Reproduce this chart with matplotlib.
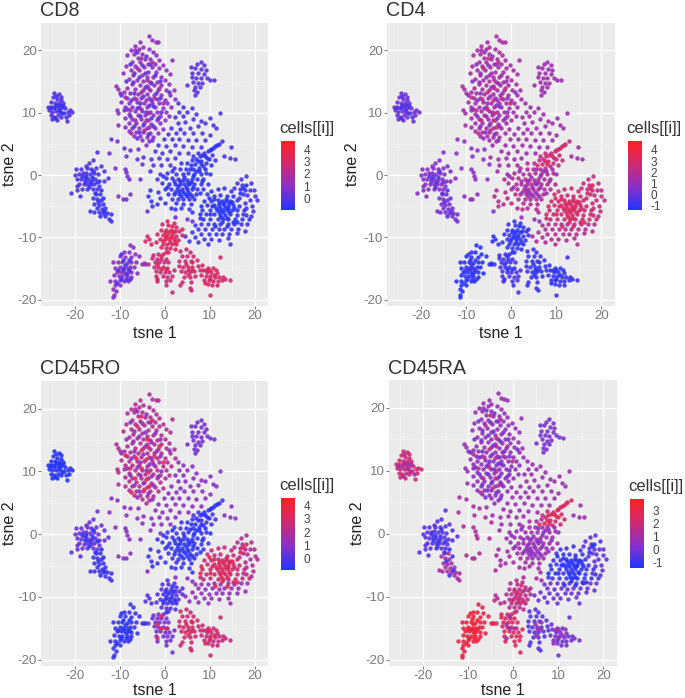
import matplotlib
matplotlib.use('Agg')
import matplotlib.pyplot as plt
from matplotlib.colors import LinearSegmentedColormap, Normalize
from matplotlib.cm import ScalarMappable
import numpy as np

# tsne positions, one list per group of cells
far_left = [(-24.5,13.2),(-23.5,13),(-23,12.6),(-24.8,12.5),(-24,12.2),(-23,12),(-25.2,11.7),(-24.4,11.6),(-23.5,11.5),(-22.6,11.5),
 (-26,11),(-25.2,11),(-24.5,11),(-23.8,10.9),(-23,10.8),(-22.2,10.7),(-21,10.5),(-20.5,10.2),(-25.8,10.4),(-25,10.2),(-24.2,10.3),
 (-23.3,10.2),(-22.4,10),(-21.5,10.2),(-25.3,9.6),(-24.6,9.4),(-23.8,9.6),(-23,9.4),(-21.3,9.6),(-25,9),(-24,8.9),(-21.8,8.7)]
arm_top = [(-15,3.7),(-16,2.4),(-16.8,2),(-17.5,1.4),(-19.8,1),(-18.6,1),(-17.3,1.1),(-16.3,1),(-15.2,1.2),(-14.2,1.5),(-20,0),(-19,0.2),
 (-18.2,0.3),(-17.5,0.4),(-16.7,0.2),(-15.8,0.3),(-14.8,0.1),(-13.5,0.6),(-12.5,-0.4),(-19.6,-0.6),(-18.6,-0.7),(-17.8,-0.5),(-17,-0.7),
 (-16.2,-0.8),(-15.4,-0.6),(-14.5,-0.9),(-13.5,-1),(-19,-1.4),(-18,-1.5),(-17.2,-1.4),(-16.4,-1.5),(-15.6,-1.4),(-14.7,-1.7),(-19.6,-1.8),
 (-18.4,-2.2),(-17.2,-2.2),(-16,-2.2),(-15,-2.3),(-20.9,-2.9),(-19.5,-2.4),(-18.9,-3.4)]
arm_tail = [(-15.3,-3),(-14.4,-3),(-16,-3.6),(-15,-3.8),(-14.2,-4),(-15.6,-4.6),(-14.6,-4.8),(-13.8,-4.6),(-15,-5.3),(-14,-5.5),(-13.2,-5.3),
 (-16.5,-5.8),(-15.8,-5.9),(-14.6,-5.9),(-13.7,-6.1),(-12.8,-6.1),(-12,-6.2),(-13.2,-6.6),(-12.4,-7),(-12,-7.3)]
top_upper = [(-3.4,22.3),(-2.8,21.6),(-2,21.4),(-1.4,21.3),(-5.4,21.3),(-6.6,20.7),(-4.8,20.6),(-7.5,20),(-6.6,20),(-5.6,20.2),(-3.5,20.2),(-2.6,19.8),
 (-8.4,19.3),(-6.8,19.4),(-5,19.4),(-2,19.2),(-1.3,18.5),(-6,18.8),(-4.4,18.7),(-3.2,18.7),(1.7,18.4),(-7.2,18.2),(-5.5,18.1),(-3.8,17.9),(-2.2,17.9),
 (-8.6,17.5),(-6.5,17.5),(-4.6,17.4),(-2.9,17.3),(-1.2,17.2),(-0.3,17.6),(-7.5,16.8),(-5.8,16.8),(-3.6,16.6),(-1.9,16.6),(0.3,16.8),(-9.2,16.4),(-7,16),
 (-5,16.1),(-4,15.7),(-2.6,15.8),(-0.9,15.8),(1.3,16.2),(-8,15.4),(-6.2,15.3),(-4.8,15.1),(-3.3,15),(-1.7,15),(0,15.2),(-7.2,14.6),(-5.5,14.5),(-4,14.3),
 (-2.4,14.4),(-0.8,14.4),(1,14.6),(-10.9,14.3),(-10.4,13.8),(-8.3,14),(-6.5,13.8),(-4.8,13.7),(-3.2,13.6),(-1.5,13.6),(0.2,13.7),(2,13.6),(-10,13.2),
 (-9,13.3),(-7.7,13.1),(-6,13),(-4,13),(-2.4,12.9),(-0.8,12.9),(1.3,12.9)]
top_lower = [(-8.3,12.4),(-6.8,12.4),(-5.2,12.3),(-3.5,12.3),(-1.8,12.2),(0,12.1),(2.2,12.2),(-9.6,11.8),(-8,11.6),(-6.2,11.7),(-4.5,11.6),(-2.8,11.6),(-1.2,11.5),
 (0.6,11.5),(-8.9,11),(-7.2,11),(-5.6,11),(-3.9,10.9),(-2.2,10.9),(-0.4,10.8),(1.4,10.9),(-10.6,10.4),(-9,10.4),(-6.6,10.3),(-5,10.3),(-3.2,10.2),(-1.6,10.2),
 (0.4,10.2),(-10.3,9.9),(-8,9.8),(-6,9.6),(-4.3,9.6),(-2.6,9.6),(-1,9.5),(1,9.5),(-8.9,9.1),(-7.2,9),(-5.2,9),(-3.6,8.9),(-1.8,8.9),(0,8.9),(-7.9,8.4),(-6.4,8.3),
 (-4.6,8.3),(-3,8.2),(-1.1,8.3),(-10.3,8),(-8.8,7.7),(-7.2,7.6),(-5.6,7.6),(-4,7.5),(-2.2,7.5),(-0.4,7.4),(-8,7),(-6.4,6.9),(-4.9,6.9),(-3.3,6.8),(-1.4,6.8),
 (-6.9,6.3),(-5.4,6.2),(-4,6.1),(-2.6,6.1),(-5,5.6),(-3.4,5.4),(-4.2,4.9)]
top_right = [(8,18.2),(7.2,17.8),(8.8,17.6),(5.9,17.3),(6.8,17.2),(8.2,17),(9.1,16.8),(6.2,16.3),(7.5,16.3),(8.8,16.2),(6,15.7),(7,15.6),(8,15.5),(9.4,15.6),(10.2,15.3),
 (11,15.2),(6.4,15),(7.4,14.7),(8.4,14.8),(5,14.4),(6.8,14.2),(7.9,14.2),(6.5,13.6),(7.3,13.4),(6.7,12.9)]
mid_scatter = [(3,11.5),(4.2,11),(6,10.8),(3.2,10.2),(5,10.2),(7,9.8),(12.3,10),(2.4,9.4),(4,9.5),(6.4,9),(8.2,8.7),(10.2,9.2),(2.9,8.4),(4.6,8.5),(9,8.4),(1.5,7.6),
 (3.5,7.4),(5.6,7.6),(7.5,7.8),(10.8,8),(11.5,7.6),(0.7,6.6),(2.6,6.7),(4.4,6.8),(6.4,6.8),(8.4,6.8),(10,6.4),(-0.2,5.8),(1.6,5.8),(3.2,5.8),(5.2,5.7),(7,5.6),
 (9,5.7),(-1.4,4.8),(0.4,4.7),(2.4,4.8),(4.2,4.6),(6.2,4.5),(8,4.5),(-2.2,3.9),(-0.6,3.6),(1.2,3.8),(3.2,3.6),(5.2,3.5),(-4.7,2.9),(-3,2.6),(-1.2,2.8),(0.6,2.6),
 (2.2,2.8),(-2.6,1.6),(-0.8,1.6),(1.2,1.6),(-3.2,0.6),(-1,0.2),(14.7,4.5),(13.2,3),(14.5,2.7),(15.7,2.6)]
centre = [(3.6,2),(5,2),(6.2,2.4),(2,1.2),(3.4,1),(4.8,1),(6.4,1),(7.6,1.2),(0.6,0.4),(2.6,0.2),(4,0.2),(5.2,0.3),(6.6,0.2),(8,0.2),(9.2,0.4),(-1.6,-0.7),(0.2,-0.5),
 (1.6,-0.5),(3,-0.6),(4,-0.8),(5,-0.8),(6,-0.7),(7.2,-0.6),(8.6,-0.6),(-0.6,-1.3),(1,-1.4),(2.2,-1.4),(3.4,-1.4),(4.4,-1.5),(5.4,-1.5),(6.6,-1.4),(8,-1.5),(9.6,-1.4),
 (0,-2.2),(1.4,-2.2),(2.8,-2.2),(3.8,-2.2),(4.9,-2.3),(6,-2.3),(7.3,-2.2),(8.6,-2.3),(-3.3,-2.4),(-1.4,-2.7),(0.8,-3),(2,-3.1),(3.3,-3.1),(4.5,-3),(5.7,-3.1),(7,-3.1),(-3.8,-3.4),
 (-1,-3.6),(1.6,-3.8),(3,-3.9),(4.2,-3.8),(5.4,-3.9),(6.6,-3.8),(-3,-4.2),(-1.8,-4.6),(0,-4.5),(2.6,-4.5),(4.2,-4.6),(5.8,-4.6),(-2.9,-5),(1.4,-5.3),(2.4,-5.4),(3.6,-5.2),(5.4,-5.4),(6,-6)]
streak = [(12.8,5.4),(12,5),(11.2,4.6),(10.4,4.2),(9.6,3.8),(8.8,3.5),(7.8,3),(7,2.6),(6.4,3),(8.2,2.2),(9.4,2.8),(10.6,3.2),(8.6,1.4),(7.4,3.6),(9.2,2),(10.4,1.6),(11.2,2.4)]
right_main = [(13.2,-2),(11.8,-2.2),(10.4,-2.5),(14.8,-2.6),(9.4,-3.1),(11,-3.3),(12.4,-3.2),(13.8,-3.4),(15.2,-3.3),(8.8,-4.1),(10.4,-4.1),(11.8,-4),(12.8,-4.1),(13.7,-4.1),(14.6,-4.2),(16,-4),
 (9.4,-4.8),(11,-4.8),(12.2,-4.8),(13.2,-4.8),(14.2,-4.9),(15.2,-4.8),(16.6,-4.9),(8.4,-5.6),(10.2,-5.6),(11.7,-5.6),(12.8,-5.6),(13.8,-5.6),(15,-5.6),(16.2,-5.6),(17.6,-5.6),
 (9.2,-6.3),(11,-6.3),(12.4,-6.4),(13.4,-6.4),(14.6,-6.3),(16,-6.4),(18.2,-6.4),(7.8,-6.9),(8.6,-7.1),(10.2,-7),(11.8,-7.1),(13,-7.1),(14.2,-7.1),(15.6,-7.1),(17.2,-7),(18.8,-7)]
right_far = [(17,-0.6),(18.2,-0.2),(16,-1.2),(17.2,-1.6),(19.2,-1.2),(15.4,-2),(16.8,-2.2),(17.8,-2.4),(19,-2.4),(19.8,-2.4),(17.4,-3),(18.4,-3.2),(20,-3.4),(16.6,-3.6),(18.9,-4),(20.6,-4),
 (17.8,-4.4),(19.4,-4.9),(18.2,-5.2),(19.6,-5.8),(17.4,-6.2),(19.2,-6.6)]
right_low = [(6.8,-8),(8.2,-7.9),(9.6,-7.9),(11,-7.8),(12.4,-7.9),(14,-7.8),(15.4,-7.9),(17,-7.8),(18.4,-7.8),(7.4,-8.6),(9,-8.7),(10.6,-8.6),(12,-8.7),(13.2,-8.6),(14.8,-8.6),(16.4,-8.6),(17.8,-9),
 (6,-9.2),(8,-9.4),(9.8,-9.5),(11.4,-9.4),(12.8,-9.4),(14.4,-9.4),(16.2,-9.3),(4.6,-9.8),(6.8,-10),(8.8,-10.2),(10.4,-10.2),(12.2,-10.4),(14,-10.1),(5.4,-10.6),(7.4,-10.8),(9.6,-11),(14.6,-11)]
low_mid = [(0.6,-7.3),(2,-7.7),(-0.6,-7.9),(0.8,-8),(2.6,-8.4),(3.8,-8.6),(-0.9,-8.8),(0.2,-8.8),(1.4,-8.8),(2.4,-9),(3.2,-9),(-1.6,-9.5),(-0.4,-9.6),(0.6,-9.6),(1.6,-9.6),(2.6,-9.7),(3.8,-9.6),
 (-1,-10.3),(0,-10.3),(1,-10.3),(2,-10.3),(3,-10.4),(-2,-10.8),(-0.4,-11),(0.6,-11),(1.6,-11),(2.6,-11),(-0.9,-11.6),(0.2,-11.7),(1.2,-11.7),(2.2,-11.9),(0.7,-12.3),(-4,-9.7),(-3.5,-10.2),(-4.3,-10.6),(-3,-11)]
low_a = [(-2.6,-12.8),(-1.4,-12.7),(-0.4,-12.7),(-2.8,-13.3),(-1.8,-13.4),(-0.8,-13.4),(0.2,-13.4),(-2.2,-14),(-1.2,-14),(-0.2,-14),(0.8,-14),(-3.8,-14.2),(-4.5,-14.1),(-2.4,-14.7),(-1.4,-14.8),(-0.4,-14.8),
 (0.6,-14.9),(-2,-15.4),(-1,-15.5),(0,-15.6),(1,-15.6),(2,-15.2),(-2,-16.2),(-0.4,-16.2),(0.6,-16.3),(1.6,-16.2),(-1.8,-17),(0.2,-17),(1.2,-16.9),(0.4,-17.6),(1.6,-18.8)]
low_b = [(3.4,-12.2),(4.8,-11.9),(5.6,-12.4),(3.8,-13),(5,-13),(6.4,-13),(3.2,-13.8),(4.6,-13.8),(5.8,-13.8),(7.2,-13.7),(3.2,-14.6),(4.2,-14.8),(5.2,-14.8),(6.2,-14.8),(7.4,-14.6),(3.6,-15.4),(4.6,-15.6),
 (5.6,-15.6),(6.6,-15.4),(7.8,-15.3),(4.4,-16.4),(5.6,-16.4),(6.8,-16.2),(3.8,-17.2),(5.8,-17.2),(5.6,-18.1),(5.9,-18.4),(3.4,-17.6)]
low_c = [(8.4,-14.4),(9.6,-14.9),(10.8,-14.9),(12.4,-13.2),(8.6,-15.2),(9.4,-15.6),(10.4,-15.6),(11.6,-15.7),(8.2,-16),(9.2,-16.2),(10.2,-16.2),(11.2,-16.4),(12.2,-16.3),(13,-16.3),(8.8,-16.8),(9.8,-16.9),(10.8,-17),
 (11.8,-17),(12.8,-16.9),(9.6,-17.4),(10.6,-17.7),(11.6,-17.6),(10,-19.2),(14.6,-16.8),(13.4,-16.6)]
low_left = [(-7.8,-11.2),(-7,-11.6),(-9,-12.4),(-8,-12.4),(-6.6,-12.6),(-10,-13),(-8.8,-13.1),(-7.4,-13.2),(-5.6,-13),(-11.4,-14),(-10.4,-14),(-9.4,-14),(-8.4,-14.1),(-7.4,-14),(-6.4,-14),(-5,-14.2),(-4.4,-14.2),
 (-11,-14.9),(-10,-14.8),(-9.2,-14.9),(-8.4,-14.9),(-7.6,-14.8),(-6.8,-14.8),(-10.6,-15.5),(-9.8,-15.5),(-9,-15.5),(-8.2,-15.5),(-7.4,-15.6),(-6.2,-15.7),(-11.2,-16.1),(-10.2,-16.2),(-9.4,-16.2),(-8.4,-16.2),(-7.4,-16.3),
 (-12.2,-17),(-11,-17),(-10,-16.9),(-9,-17),(-8.2,-17),(-11,-17.7),(-10,-17.7),(-11.4,-18.2),(-10.8,-18.6),(-11.3,-19.2),(-11.4,-19.6)]
stray = [(-12,5.8),(-10.5,5.5),(-12.3,3.5),(-9,4.4),(-7.6,4.1),(-6,4.2),(-11,1.2),(-8.7,3),(-8.9,1),(-8.5,0.5),(-8.3,-0.2),(-8,-0.7),(-10.4,-3.4),(-9.2,-3.8),(-8.6,-3.8),(-7.6,-3),(-5.4,-0.7),(-5,1.8),(-6.2,2.6),(-4,-5.8),(5,-7),(6.2,-7.4),(2.2,-6.8)]

# second pass over the dense spots, these cells read a bit off from their neighbours
far_left_b = [(-24.1,11.3),(-23.2,11.2),(-24.7,10.7),(-23.5,10.5),(-22.7,11.1),(-24.2,12.7),(-25.5,10.8),(-22.9,9.9),(-24.3,9.1),(-21.9,9.4)]
arm_b = [(-17.4,-0.2),(-16.6,-1.1),(-15.9,0.7),(-17.7,-1),(-15.1,-1.1),(-16.9,-1.9),(-18.3,-0.1),(-14.2,-2.4),(-14.9,-4.3),(-13.4,-5.8),(-14.3,-6.5),(-15.4,-2.9),(-13.6,-3.6),(-16.2,-0.3)]
top_b = [(-6.1,19.7),(-4.2,19.1),(-7.8,17.9),(-5.1,17.7),(-3.3,17.9),(-6.9,16.4),(-4.4,16.3),(-2.2,16.1),(-8.6,15.1),(-5.6,15.7),(-3,14.7),(-1.1,15.1),(-6.9,13.2),(-4.4,14.1),(-2,13.2),(0.9,13.4),
 (-7.5,12.1),(-5.4,11.5),(-3.1,12.1),(-1,12.4),(-8.4,10.6),(-6.1,10.7),(-4.2,10.2),(-2.6,11.1),(-0.9,10.1),(-7.6,9.5),(-5.5,9.5),(-3.1,9.2),(-1.4,9.2),(-6.8,7.9),(-4.9,8.1),(-2.6,7.9),(-5.8,6.9),(-3.8,6.6),(-6.2,5.9),(-2.9,5.6),(-9.6,12.9),(-7.1,14.9),(-3.4,11.2),(-4.7,12.7)]
top_c = [(-5.2,18.8),(-2.9,18.2),(-6.2,17.2),(-3.9,15.2),(-1.3,14),(-5.3,13.4),(-3.7,13.9),(-8.8,12.6),(-6.4,12.2),(-4.1,12),(-2.3,12.4),(-0.3,11.5),(-7.8,10.5),(-5.3,10.6),(-3.7,9.9),(-6.6,8.9),(-4.1,8.8),(-7.4,6.7),(-4.6,7.2),(-3.4,7.7)]
centre_b = [(4.3,-0.3),(5.2,-1.2),(3.5,-0.9),(4.7,-1.9),(5.9,-1.1),(3,-1.8),(2.1,-0.9),(6.3,-1.9),(4,-2.7),(5.3,-2.7),(3.2,-2.6),(6.4,-0.2),(7.7,0.7),(8.3,-1),(1.7,0.7),(2.4,-2.7),(6.1,-3.4),(4.9,-3.4),(7.8,-2.8),(3.7,-3.4),(9,1),(7,0.6),(10,0.2),(5.6,0.9),(-0.4,-0.2),(0.5,-1.9)]
streak_b = [(11.6,4.8),(10,4),(8.4,3.2),(9,3.1),(7.5,2.2),(10.8,4.4),(6.8,1.7),(8,1.7),(5.8,1.6),(9.9,2.6)]
right_b = [(12.9,-4.5),(13.4,-5.2),(12.4,-5.2),(14,-5.2),(13.1,-6),(14.3,-4.5),(12,-4.4),(11.4,-5.2),(15,-4.3),(13.6,-3.8),(12.2,-6),(14.4,-6),(15.4,-5.2),(10.6,-5),(13.8,-6.9),(12.6,-6.8),(11,-3.9),(16.8,-2.9),(17.5,-2),(18,-1.6),(10,-6.2),(15.2,-7.6),(12.8,-7.5),(11.2,-8.2),(7.8,-6.2),(8.2,-5),(9.8,-3.6),(13.8,-8.2),(16.2,-7.6)]
low_mid_b = [(0.9,-9.2),(1.9,-9.1),(0.1,-9.1),(1.1,-10.7),(0.4,-10),(2.2,-10.7),(1.4,-10),(-0.3,-10.6),(1.7,-8.2),(0.2,-12.4)]
low_left_b = [(-9.3,-15.1),(-8.7,-15.8),(-9.7,-16.6),(-8.8,-14.4),(-7.9,-15.2),(-10.3,-15.2),(-8,-13.7),(-9.2,-13.6),(-10.5,-17.3),(-7.8,-16.7),(-9.6,-12.6),(-8.6,-16.6)]
low_bc_b = [(5.2,-15.2),(4.8,-14.3),(6,-15.2),(5.1,-16),(6.2,-14),(10,-16.6),(9.2,-15.3),(10.9,-16),(9.9,-15.2),(8.9,-17.3),(11.4,-15.2),(-1.6,-14.3),(-0.9,-15),(0.2,-15),(-0.9,-13),(-1.6,-16.6)]

groups = [far_left, arm_top, arm_tail, top_upper, top_lower, top_right, mid_scatter, centre, streak,
          right_main, right_far, right_low, low_mid, low_a, low_b, low_c, low_left, stray,
          far_left_b, arm_b, top_b, top_c, centre_b, streak_b, right_b, low_mid_b, low_left_b, low_bc_b]

# colour level of each group above, per marker
cd8_vals = [0, -0.1, -0.4, 1.1, 0.9, 0.1, -0.1, -0.5, -0.4, -0.6, -0.2, -0.4, 3.0, 2.6, 2.7, 2.9, 1.0, 0.5,
            -0.6, -0.7, 0.2, 1.8, -0.9, -0.8, -0.9, 3.6, -0.3, 3.4]
cd4_vals = [0.2, 0.6, 0.3, 1.6, 1.4, 1.2, 1.3, 1.9, 2.4, 2.6, 2.4, 1.9, -0.9, -0.6, -0.8, -0.9, -1.2, 0.8,
            -0.6, -0.3, 0.7, 2.3, 1.0, 3.0, 3.2, -1.2, -0.8, -1.2]
cd45ro_vals = [-0.7, 0.4, -0.3, 2.0, 2.1, 0.6, 1.0, -0.4, -0.3, 2.6, 2.0, 1.2, 0.0, 0.6, 2.7, 2.5, -0.4, 1.0,
               -0.8, -0.7, 1.0, 3.2, -0.8, -0.7, 3.4, -0.6, -0.8, 3.3]
cd45ra_vals = [2.1, -0.4, 1.1, 0.7, 0.6, 0.1, 0.8, 1.0, 2.1, -0.9, -0.3, -0.1, 1.5, 2.5, -0.5, 0.0, 3.0, 1.2,
               1.0, -1.0, 0.0, 1.5, 0.3, 2.8, -1.3, 2.2, 3.5, 0.9]

titles = ['CD8', 'CD4', 'CD45RO', 'CD45RA']
panel_vals = [cd8_vals, cd4_vals, cd45ro_vals, cd45ra_vals]
color_ranges = [(-1, 4.75), (-1.4, 4.8), (-0.9, 4.6), (-1.4, 3.9)]
color_ticks = [[0, 1, 2, 3, 4], [-1, 0, 1, 2, 3, 4], [0, 1, 2, 3, 4], [-1, 0, 1, 2, 3]]

W, H = 685.0, 698.0
# pixel boxes: left, right, top, bottom of each plot, then colour bar
ax_boxes = [(41, 268, 23, 306), (387, 615, 23, 306), (41, 268, 381, 666), (389, 617, 380, 666)]
cb_boxes = [(281, 295, 141, 210), (628, 642, 141, 210), (281, 295, 498, 570), (630, 644, 499, 568)]
ylabel_x = [10, 353, 10, 358]
xlabel_gap = [27, 27, 24.5, 24.5]
title_y = [16, 16, 374, 374]

cmap = LinearSegmentedColormap.from_list('br', ['#1f35ff', '#8a30c8', '#d02a70', '#ff2020'])
plt.rcParams['font.family'] = ['Liberation Sans', 'DejaVu Sans']
plt.rcParams['axes.unicode_minus'] = False
grey = '#7a7a7a'

fig = plt.figure(figsize=(W / 100, H / 100), dpi=100)

for i in range(4):
    l, r, t, b = ax_boxes[i]
    ax = fig.add_axes([l / W, 1 - b / H, (r - l) / W, (b - t) / H])
    ax.set_facecolor('#ebebeb')
    ax.set_xlim(-27.5, 23)
    ax.set_ylim(-21, 24.4)
    ax.set_xticks([-20, -10, 0, 10, 20])
    ax.set_yticks([-20, -10, 0, 10, 20])
    ax.set_xticks([-25, -15, -5, 5, 15], minor=True)
    ax.set_yticks([-15, -5, 5, 15], minor=True)
    ax.grid(True, which='major', color='white', lw=1.0)
    ax.grid(True, which='minor', color='#f5f5f5', lw=0.5)
    ax.tick_params(which='minor', length=0)
    ax.tick_params(which='major', colors=grey, labelsize=9.5, length=2, width=0.8, pad=1)
    ax.set_axisbelow(True)
    for s in ax.spines.values():
        s.set_visible(False)

    vmin, vmax = color_ranges[i]
    norm = Normalize(vmin, vmax)
    for g, v in zip(groups, panel_vals[i]):
        pts = np.array(g)
        ax.scatter(pts[:, 0], pts[:, 1], s=10, color=cmap(norm(v)), linewidths=0, alpha=0.9)

    ax.set_xlabel('tsne 1', fontsize=11.5, color='#222222', va='center')
    ax.xaxis.set_label_coords(0.5, -xlabel_gap[i] / (b - t))
    ax.set_ylabel('tsne 2', fontsize=11.5, color='#222222', va='center')
    ax.yaxis.set_label_coords((ylabel_x[i] - l) / (r - l), 0.5)
    fig.text((l - 1) / W, 1 - title_y[i] / H, titles[i], fontsize=14.2, color='#333333', ha='left', va='baseline')

    cl, cr, ct, cb = cb_boxes[i]
    cax = fig.add_axes([cl / W, 1 - cb / H, (cr - cl) / W, (cb - ct) / H])
    bar = fig.colorbar(ScalarMappable(norm=norm, cmap=cmap), cax=cax, ticks=color_ticks[i])
    bar.outline.set_visible(False)
    bar.ax.tick_params(length=0, labelsize=8.5, colors='#444444', pad=6)
    fig.text(cl / W - 0.002, 1 - (ct - 8) / H, 'cells[[i]]', fontsize=12, color='#333333', ha='left', va='baseline')

fig.savefig('out.png', dpi=100)
